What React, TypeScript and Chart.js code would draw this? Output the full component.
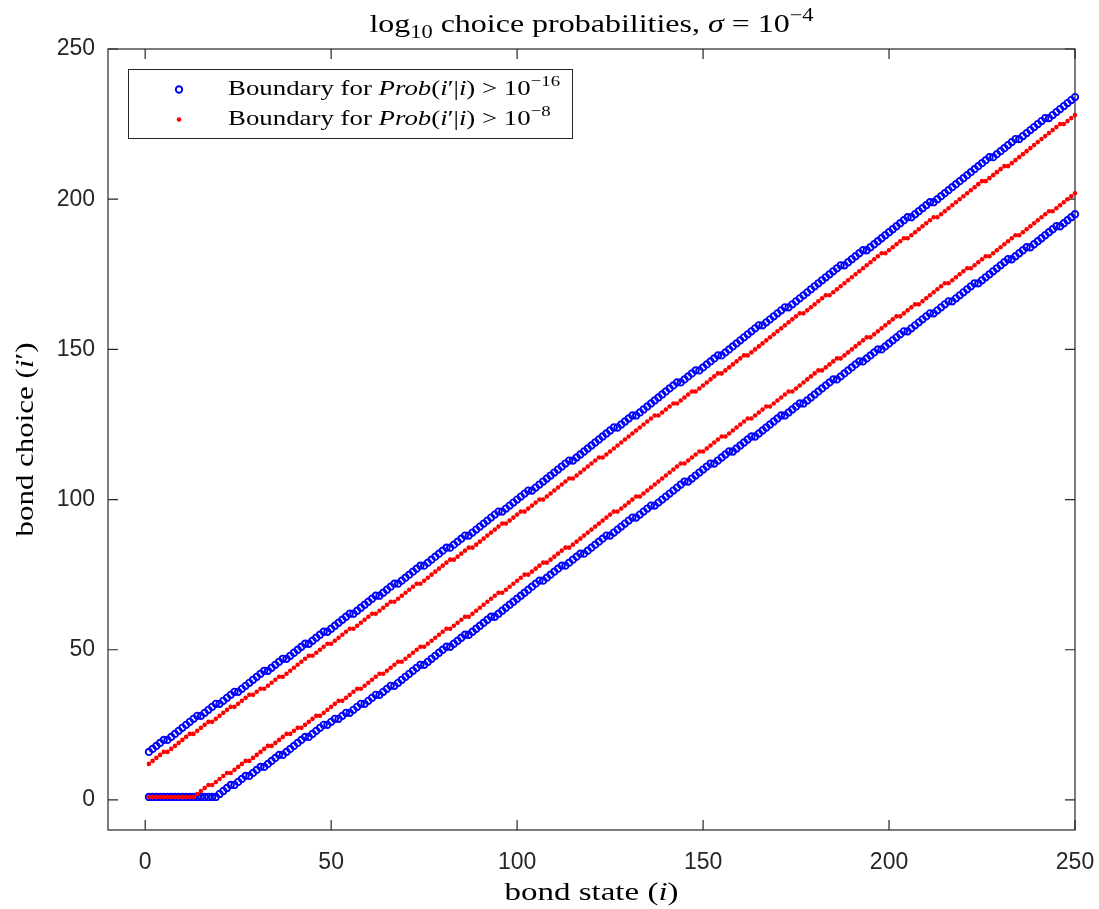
import React, { useEffect, useRef } from "react";
import { Chart, registerables } from "chart.js";

Chart.register(...registerables);

// bond states i = 1..250
const bondStates: number[] = Array.from({ length: 250 }, (_, k) => k + 1);

// Boundary for Prob(i'|i) > 1e-16 (blue circles), upper and lower
const upperBlue: number[] = [
  16, 17, 18, 19, 20, 20, 21, 22, 23, 24,
  25, 26, 27, 28, 28, 29, 30, 31, 32, 32,
  33, 34, 35, 36, 36, 37, 38, 39, 40, 41,
  42, 43, 43, 44, 45, 46, 47, 47, 48, 49,
  50, 51, 52, 52, 53, 54, 55, 56, 56, 57,
  58, 59, 60, 61, 62, 62, 63, 64, 65, 66,
  67, 68, 68, 69, 70, 71, 72, 72, 73, 74,
  75, 76, 77, 78, 78, 79, 80, 81, 82, 83,
  84, 84, 85, 86, 87, 88, 88, 89, 90, 91,
  92, 93, 94, 95, 96, 96, 97, 98, 99, 100,
  101, 102, 103, 103, 104, 105, 106, 107, 108, 109,
  110, 111, 112, 113, 113, 114, 115, 116, 117, 118,
  119, 120, 121, 122, 123, 124, 124, 125, 126, 127,
  128, 128, 129, 130, 131, 132, 133, 134, 135, 136,
  137, 138, 139, 139, 140, 141, 142, 143, 143, 144,
  145, 146, 147, 148, 148, 149, 150, 151, 152, 153,
  154, 155, 156, 157, 158, 158, 159, 160, 161, 162,
  163, 164, 164, 165, 166, 167, 168, 169, 170, 171,
  172, 173, 174, 175, 176, 177, 178, 178, 179, 180,
  181, 182, 183, 183, 184, 185, 186, 187, 188, 189,
  190, 191, 192, 193, 194, 194, 195, 196, 197, 198,
  199, 199, 200, 201, 202, 203, 204, 205, 206, 207,
  208, 209, 210, 211, 212, 213, 214, 214, 215, 216,
  217, 218, 219, 220, 220, 221, 222, 223, 224, 225,
  226, 227, 227, 228, 229, 230, 231, 232, 233, 234,
];

const lowerBlue: number[] = [
  1, 1, 1, 1, 1, 1, 1, 1, 1, 1,
  1, 1, 1, 1, 1, 1, 1, 1, 1, 2,
  3, 4, 5, 5, 6, 7, 8, 8, 9, 10,
  11, 11, 12, 13, 14, 15, 15, 16, 17, 18,
  19, 20, 21, 21, 22, 23, 24, 25, 25, 26,
  27, 27, 28, 29, 29, 30, 31, 32, 32, 33,
  34, 35, 35, 36, 37, 38, 38, 39, 40, 41,
  42, 43, 44, 45, 45, 46, 47, 48, 49, 50,
  51, 51, 52, 53, 54, 55, 55, 56, 57, 58,
  59, 60, 61, 61, 62, 63, 64, 65, 66, 67,
  68, 69, 70, 71, 72, 73, 73, 74, 75, 76,
  77, 78, 78, 79, 80, 81, 82, 82, 83, 84,
  85, 86, 87, 88, 88, 89, 90, 91, 92, 93,
  94, 94, 95, 96, 97, 98, 98, 99, 100, 101,
  102, 103, 104, 105, 106, 106, 107, 108, 109, 110,
  111, 112, 112, 113, 114, 115, 116, 116, 117, 118,
  119, 120, 121, 121, 122, 123, 124, 125, 126, 127,
  128, 128, 129, 130, 131, 132, 132, 133, 134, 135,
  136, 137, 138, 139, 140, 140, 141, 142, 143, 144,
  145, 146, 146, 147, 148, 149, 150, 150, 151, 152,
  153, 154, 155, 156, 156, 157, 158, 159, 160, 161,
  162, 162, 163, 164, 165, 166, 166, 167, 168, 169,
  170, 171, 172, 172, 173, 174, 175, 176, 177, 178,
  179, 180, 180, 181, 182, 183, 184, 184, 185, 186,
  187, 188, 189, 190, 191, 191, 192, 193, 194, 195,
];

// Boundary for Prob(i'|i) > 1e-8 (red dots), upper and lower
const upperRed: number[] = [
  12, 13, 14, 15, 16, 16, 17, 18, 19, 20,
  21, 22, 22, 23, 24, 25, 26, 26, 27, 28,
  29, 30, 31, 31, 32, 33, 34, 35, 35, 36,
  37, 37, 38, 39, 40, 41, 41, 42, 43, 44,
  45, 46, 47, 48, 48, 49, 50, 51, 52, 52,
  53, 54, 55, 56, 57, 57, 58, 59, 60, 61,
  62, 62, 63, 64, 65, 66, 66, 67, 68, 69,
  70, 71, 72, 72, 73, 74, 75, 76, 77, 78,
  79, 80, 80, 81, 82, 83, 84, 84, 85, 86,
  87, 88, 89, 90, 91, 92, 92, 93, 94, 95,
  96, 96, 97, 98, 99, 100, 100, 101, 102, 103,
  104, 105, 106, 107, 107, 108, 109, 110, 111, 112,
  113, 114, 114, 115, 116, 117, 118, 119, 120, 121,
  122, 123, 124, 125, 126, 127, 128, 128, 129, 130,
  131, 132, 132, 133, 134, 135, 136, 136, 137, 138,
  139, 140, 141, 142, 142, 143, 144, 145, 146, 147,
  148, 148, 149, 150, 151, 152, 153, 154, 155, 156,
  157, 158, 159, 160, 161, 162, 162, 163, 164, 165,
  166, 167, 168, 168, 169, 170, 171, 172, 173, 174,
  175, 176, 177, 178, 179, 180, 181, 182, 182, 183,
  184, 185, 186, 187, 187, 188, 189, 190, 191, 192,
  193, 194, 194, 195, 196, 197, 198, 199, 200, 201,
  202, 203, 204, 205, 206, 206, 207, 208, 209, 210,
  211, 211, 212, 213, 214, 215, 216, 217, 218, 219,
  220, 221, 222, 223, 224, 225, 225, 226, 227, 228,
];

const lowerRed: number[] = [
  1, 1, 1, 1, 1, 1, 1, 1, 1, 1,
  1, 1, 1, 2, 3, 4, 5, 5, 6, 7,
  8, 9, 9, 10, 11, 12, 13, 13, 14, 15,
  16, 17, 18, 18, 19, 20, 21, 22, 22, 23,
  24, 24, 25, 26, 27, 28, 28, 29, 30, 31,
  32, 33, 33, 34, 35, 36, 37, 37, 38, 39,
  40, 41, 42, 42, 43, 44, 45, 46, 46, 47,
  48, 49, 50, 51, 51, 52, 53, 54, 55, 56,
  57, 57, 58, 59, 60, 61, 61, 62, 63, 64,
  65, 66, 67, 68, 69, 69, 70, 71, 72, 73,
  74, 75, 75, 76, 77, 78, 79, 79, 80, 81,
  82, 83, 84, 84, 85, 86, 87, 88, 89, 90,
  91, 92, 93, 94, 95, 96, 96, 97, 98, 99,
  100, 101, 101, 102, 103, 104, 105, 106, 107, 108,
  109, 110, 111, 112, 112, 113, 114, 115, 116, 116,
  117, 118, 119, 120, 121, 121, 122, 123, 124, 125,
  126, 127, 127, 128, 129, 130, 131, 131, 132, 133,
  134, 135, 136, 136, 137, 138, 139, 140, 141, 142,
  143, 143, 144, 145, 146, 147, 147, 148, 149, 150,
  151, 152, 153, 154, 154, 155, 156, 157, 158, 159,
  160, 161, 161, 162, 163, 164, 165, 165, 166, 167,
  168, 169, 170, 171, 172, 172, 173, 174, 175, 176,
  177, 177, 178, 179, 180, 181, 181, 182, 183, 184,
  185, 186, 187, 188, 188, 189, 190, 191, 192, 193,
  194, 195, 196, 196, 197, 198, 199, 200, 201, 202,
];

const xTicks: number[] = [0, 50, 100, 150, 200, 250];
const yTicks: number[] = [0, 50, 100, 150, 200, 250];

type Seg = { t: string; it?: boolean; sup?: boolean; sub?: boolean };

const titleSegs: Seg[] = [
  { t: "log" },
  { t: "10", sub: true },
  { t: " choice probabilities, " },
  { t: "σ", it: true },
  { t: " = 10" },
  { t: "−4", sup: true },
];
const legendSegs1: Seg[] = [
  { t: "Boundary for " },
  { t: "Prob", it: true },
  { t: "(" },
  { t: "i", it: true },
  { t: "′|" },
  { t: "i", it: true },
  { t: ") > 10" },
  { t: "−16", sup: true },
];
const legendSegs2: Seg[] = [
  { t: "Boundary for " },
  { t: "Prob", it: true },
  { t: "(" },
  { t: "i", it: true },
  { t: "′|" },
  { t: "i", it: true },
  { t: ") > 10" },
  { t: "−8", sup: true },
];
const xLabelSegs: Seg[] = [{ t: "bond state (" }, { t: "i", it: true }, { t: ")" }];
const yLabelSegs: Seg[] = [{ t: "bond choice (" }, { t: "i", it: true }, { t: "′)" }];

const SERIF = '"Liberation Serif", "DejaVu Serif", serif';
const SANS = '"Liberation Sans", Arial, sans-serif';
const AXIS = "#262626";
const BLUE = "#0000ff";
const RED = "#ff0000";

function segFont(s: Seg, size: number) {
  const sz = s.sup || s.sub ? size * 0.7 : size;
  return `${s.it ? "italic " : ""}${sz}px ${SERIF}`;
}

function richWidth(ctx: CanvasRenderingContext2D, segs: Seg[], size: number) {
  let w = 0;
  for (const s of segs) {
    ctx.font = segFont(s, size);
    w += ctx.measureText(s.t).width;
  }
  return w;
}

// draws mixed-style text; stretch widens glyphs horizontally (Computer Modern is wider than Times)
function drawRich(
  ctx: CanvasRenderingContext2D,
  segs: Seg[],
  x: number,
  y: number,
  size: number,
  align: "left" | "center",
  stretch: number
) {
  const total = richWidth(ctx, segs, size) * stretch;
  const start = align === "center" ? x - total / 2 : x;
  ctx.save();
  ctx.translate(start, y);
  ctx.scale(stretch, 1);
  ctx.textAlign = "left";
  ctx.textBaseline = "alphabetic";
  let cx = 0;
  for (const s of segs) {
    ctx.font = segFont(s, size);
    const dy = s.sup ? -size * 0.42 : s.sub ? size * 0.24 : 0;
    ctx.fillText(s.t, cx, dy);
    cx += ctx.measureText(s.t).width;
  }
  ctx.restore();
}

const framePlugin = {
  id: "matlabFrame",
  beforeDatasetsDraw(chart: any) {
    const { ctx, chartArea: a, scales } = chart;
    const xs = scales.x;
    const ys = scales.y;
    ctx.save();
    ctx.strokeStyle = AXIS;
    ctx.lineWidth = 1.2;
    ctx.strokeRect(a.left, a.top, a.right - a.left, a.bottom - a.top);
    const tl = 10;
    ctx.beginPath();
    for (const v of xTicks) {
      const px = xs.getPixelForValue(v);
      ctx.moveTo(px, a.bottom);
      ctx.lineTo(px, a.bottom - tl);
      ctx.moveTo(px, a.top);
      ctx.lineTo(px, a.top + tl);
    }
    for (const v of yTicks) {
      const py = ys.getPixelForValue(v);
      ctx.moveTo(a.left, py);
      ctx.lineTo(a.left + tl, py);
      ctx.moveTo(a.right, py);
      ctx.lineTo(a.right - tl, py);
    }
    ctx.stroke();
    ctx.restore();
  },
  afterDraw(chart: any) {
    const { ctx, chartArea: a, scales } = chart;
    const xs = scales.x;
    const ys = scales.y;
    ctx.save();
    ctx.fillStyle = AXIS;
    // tick labels
    ctx.font = `23px ${SANS}`;
    ctx.textAlign = "center";
    ctx.textBaseline = "alphabetic";
    for (const v of xTicks) {
      ctx.fillText(String(v), xs.getPixelForValue(v), 869);
    }
    ctx.textAlign = "right";
    ctx.textBaseline = "middle";
    for (const v of yTicks) {
      ctx.fillText(String(v), 95, ys.getPixelForValue(v));
    }
    // axis labels
    ctx.fillStyle = "#000";
    drawRich(ctx, xLabelSegs, (a.left + a.right) / 2, 900, 26, "center", 1.27);
    ctx.save();
    ctx.translate(33, (a.top + a.bottom) / 2);
    ctx.rotate(-Math.PI / 2);
    drawRich(ctx, yLabelSegs, 0, 0, 26, "center", 1.19);
    ctx.restore();
    // title
    drawRich(ctx, titleSegs, (a.left + a.right) / 2, 32, 26, "center", 1.23);
    // legend
    ctx.fillStyle = "#fff";
    ctx.fillRect(128.5, 69.5, 444, 69);
    ctx.strokeStyle = AXIS;
    ctx.lineWidth = 1;
    ctx.strokeRect(128.5, 69.5, 444, 69);
    ctx.beginPath();
    ctx.arc(179, 89.5, 3.2, 0, Math.PI * 2);
    ctx.strokeStyle = BLUE;
    ctx.lineWidth = 1.9;
    ctx.stroke();
    ctx.beginPath();
    ctx.arc(179, 119.5, 2.3, 0, Math.PI * 2);
    ctx.fillStyle = RED;
    ctx.fill();
    ctx.fillStyle = "#000";
    drawRich(ctx, legendSegs1, 228, 95, 22, "left", 1.22);
    drawRich(ctx, legendSegs2, 228, 125, 22, "left", 1.22);
    ctx.restore();
  },
};

export default function App() {
  const ref = useRef<HTMLCanvasElement | null>(null);
  useEffect(() => {
    if (!ref.current) return;
    const mk = (ys: number[]) => bondStates.map((x, k) => ({ x, y: ys[k] }));
    const redStyle = {
      pointStyle: "circle" as const,
      pointRadius: 2.3,
      pointBorderWidth: 0,
      pointBackgroundColor: RED,
      pointBorderColor: RED,
      showLine: false,
      clip: false as const,
    };
    const blueStyle = {
      pointStyle: "circle" as const,
      pointRadius: 3.2,
      pointBorderWidth: 1.9,
      pointBackgroundColor: "rgba(0,0,0,0)",
      pointBorderColor: BLUE,
      showLine: false,
      clip: false as const,
    };
    const chart = new Chart(ref.current, {
      type: "scatter",
      data: {
        datasets: [
          { label: "Boundary for Prob(i'|i) > 10^-8 (lower)", data: mk(lowerRed), ...redStyle },
          { label: "Boundary for Prob(i'|i) > 10^-8", data: mk(upperRed), ...redStyle },
          { label: "Boundary for Prob(i'|i) > 10^-16 (lower)", data: mk(lowerBlue), ...blueStyle },
          { label: "Boundary for Prob(i'|i) > 10^-16", data: mk(upperBlue), ...blueStyle },
        ],
      },
      options: {
        responsive: false,
        animation: false,
        events: [],
        layout: { padding: { left: 108, right: 24, top: 49, bottom: 79 } },
        plugins: {
          legend: { display: false },
          title: { display: false },
          tooltip: { enabled: false },
        },
        scales: {
          x: {
            type: "linear",
            min: -10,
            max: 250,
            ticks: { display: false },
            grid: { display: false, drawTicks: false },
            border: { display: false },
            afterFit: (s: any) => {
              s.height = 0;
            },
          },
          y: {
            type: "linear",
            min: -10,
            max: 250,
            ticks: { display: false },
            grid: { display: false, drawTicks: false },
            border: { display: false },
            afterFit: (s: any) => {
              s.width = 0;
            },
          },
        },
      },
      plugins: [framePlugin],
    });
    return () => chart.destroy();
  }, []);
  return (
    <div style={{ position: "fixed", left: 0, top: 0, width: 1099, height: 909, background: "#fff" }}>
      <canvas ref={ref} width={1099} height={909} style={{ width: 1099, height: 909 }} />
    </div>
  );
}
